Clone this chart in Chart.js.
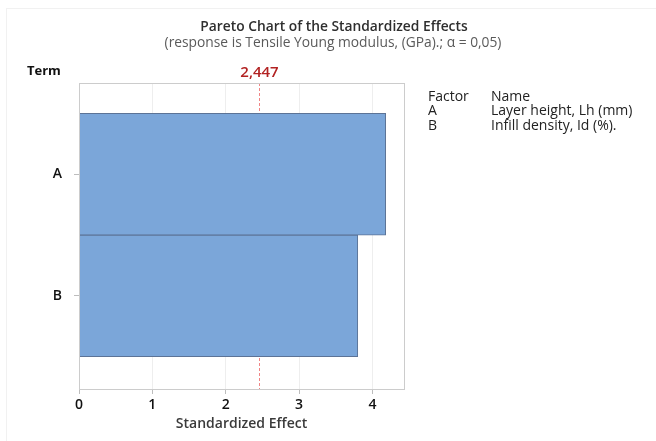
<!DOCTYPE html>
<html>
<head>
<meta charset="utf-8">
<script src="https://cdn.jsdelivr.net/npm/chart.js@4/dist/chart.umd.min.js"></script>
<style>
  html, body { margin: 0; padding: 0; background: #ffffff; }
  #wrap { width: 656px; height: 441px; position: relative; }
</style>
</head>
<body>
<div id="wrap"><canvas id="pareto" width="656" height="441"></canvas></div>
<script>
// Pareto chart of standardized effects
const chartTitle = 'Pareto Chart of the Standardized Effects';
const chartSubtitle = '(response is Tensile Young modulus, (GPa).; \u03b1 = 0,05)';
const terms = ['A', 'B'];
const effects = [4.18, 3.80];
const factorNames = ['Layer height, Lh (mm)', 'Infill density, Id (%).'];
const xTickValues = [0, 1, 2, 3, 4];
const criticalValue = 2.447;
const criticalLabel = '2,447';

const FONT = '"Open Sans", "Noto Sans", sans-serif';

const decorations = {
  id: 'decorations',
  beforeDraw(chart) {
    const ctx = chart.ctx;
    ctx.save();
    ctx.strokeStyle = '#f1f1f1';
    ctx.lineWidth = 1;
    ctx.strokeRect(6.5, 8.5, 680, 460);
    ctx.restore();
  },
  beforeDatasetsDraw(chart) {
    // reference line at the critical value, behind the bars
    const ctx = chart.ctx;
    const a = chart.chartArea;
    const rx = Math.round(chart.scales.x.getPixelForValue(criticalValue)) + 0.5;
    ctx.save();
    ctx.strokeStyle = '#f08585';
    ctx.lineWidth = 1;
    ctx.setLineDash([3, 2]);
    ctx.beginPath();
    ctx.moveTo(rx, a.top);
    ctx.lineTo(rx, a.bottom);
    ctx.stroke();
    ctx.restore();
  },
  afterDatasetsDraw(chart) {
    const ctx = chart.ctx;
    const a = chart.chartArea;
    const rx = Math.round(chart.scales.x.getPixelForValue(criticalValue)) + 0.5;
    ctx.save();

    // plot frame
    ctx.strokeStyle = '#cccccc';
    ctx.lineWidth = 1;
    ctx.strokeRect(Math.round(a.left) + 0.5, Math.round(a.top) + 0.5,
                   Math.round(a.right - a.left), Math.round(a.bottom - a.top));

    // critical value label
    ctx.fillStyle = '#b22222';
    ctx.font = '600 15px ' + FONT;
    ctx.textAlign = 'center';
    ctx.textBaseline = 'middle';
    ctx.fillText(criticalLabel, rx, 73);

    // titles
    ctx.fillStyle = '#2e2e2e';
    ctx.font = '600 13.8px ' + FONT;
    ctx.fillText(chartTitle, 334, 27);
    ctx.fillStyle = '#5a5a5a';
    ctx.font = '13.8px ' + FONT;
    ctx.fillText(chartSubtitle, 333, 43);

    // axis caption for the terms
    ctx.fillStyle = '#111111';
    ctx.font = 'bold 13px ' + FONT;
    ctx.textAlign = 'left';
    ctx.fillText('Term', 27, 71);

    // factor table
    ctx.fillStyle = '#222222';
    ctx.font = '14px ' + FONT;
    ctx.fillText('Factor', 428, 97);
    ctx.fillText('Name', 491, 97);
    terms.forEach((t, i) => {
      const y = 111.5 + i * 14.5;
      ctx.fillText(t, 428, y);
      ctx.fillText(factorNames[i], 491, y);
    });
    ctx.restore();
  }
};

new Chart(document.getElementById('pareto'), {
  type: 'bar',
  data: {
    datasets: [{
      data: effects.map((v, i) => ({ x: v, y: i })),
      backgroundColor: '#7ba6d9',
      borderColor: '#5c7396',
      borderWidth: 1,
      categoryPercentage: 1.0,
      barPercentage: 1.0
    }]
  },
  options: {
    indexAxis: 'y',
    responsive: false,
    animation: false,
    layout: { padding: { top: 83, right: 252, left: 0, bottom: 0 } },
    plugins: { legend: { display: false }, tooltip: { enabled: false }, title: { display: false } },
    scales: {
      x: {
        type: 'linear',
        min: 0,
        max: 4.43,
        afterBuildTicks(scale) { scale.ticks = xTickValues.map(v => ({ value: v })); },
        afterFit(scale) { scale.height = 52; },
        border: { display: false },
        grid: { color: '#eeeeee', tickColor: '#bdbdbd', tickLength: 5, drawOnChartArea: true },
        ticks: {
          color: '#111111',
          padding: 3,
          font: { family: FONT, size: 14, weight: '600' }
        },
        title: {
          display: true,
          text: 'Standardized Effect',
          color: '#3a3a3a',
          padding: { top: 0, bottom: 9 },
          font: { family: FONT, size: 14, weight: '600' }
        }
      },
      y: {
        type: 'linear',
        reverse: true,
        offset: false,
        min: -0.75,
        max: 1.765,
        afterBuildTicks(scale) { scale.ticks = terms.map((t, i) => ({ value: i })); },
        afterFit(scale) { scale.width = 79; },
        border: { display: false },
        grid: { offset: false, drawOnChartArea: false, tickColor: '#bdbdbd', tickLength: 5 },
        ticks: {
          color: '#111111',
          padding: 12,
          callback: (v) => terms[v] ?? '',
          font: { family: FONT, size: 14, weight: '600' }
        }
      }
    }
  },
  plugins: [decorations]
});
</script>
</body>
</html>
